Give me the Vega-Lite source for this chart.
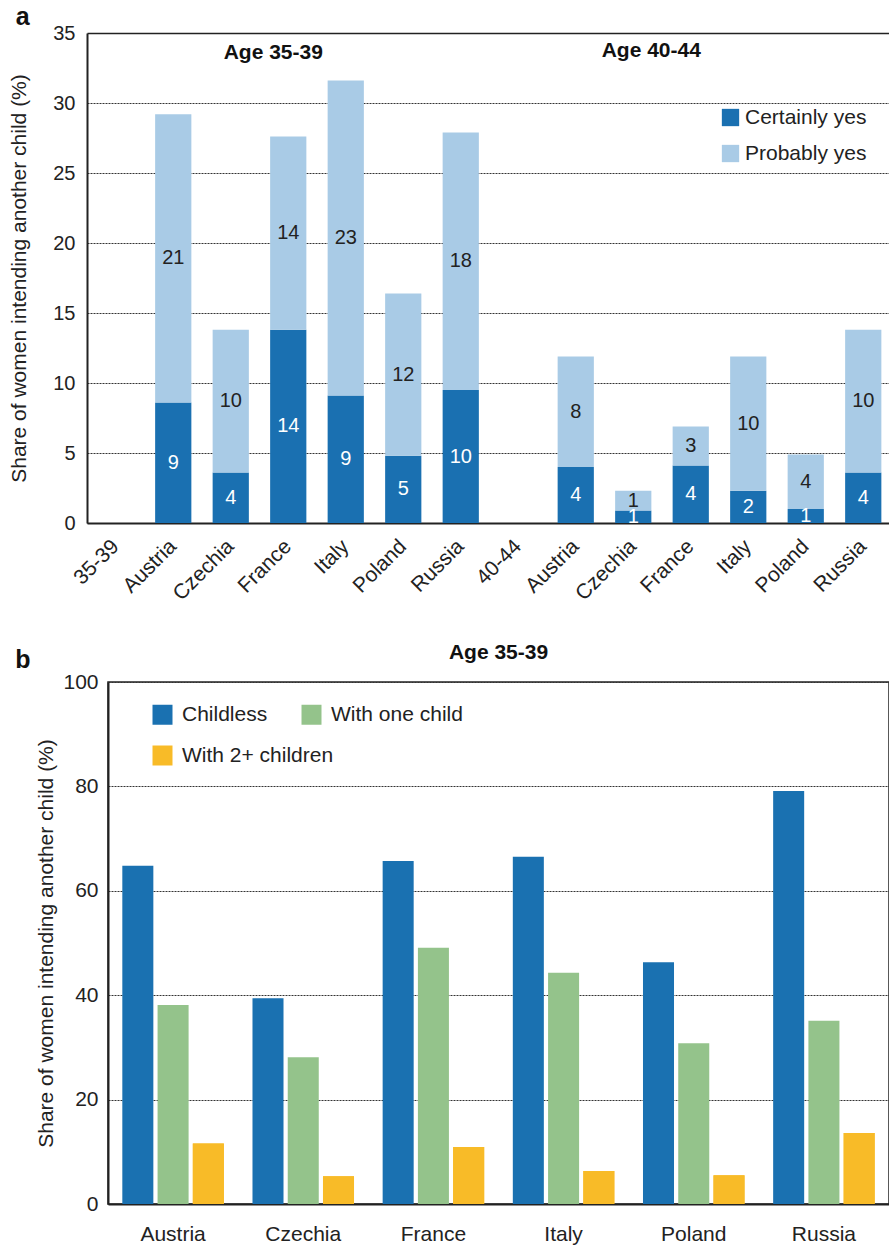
{
  "$schema": "https://vega.github.io/schema/vega-lite/v6.json",
  "padding": {"left": 8, "top": 5, "right": 0, "bottom": 0},
  "spacing": 37,
  "resolve": {"scale": {"color": "independent", "fill": "independent"}, "legend": {"color": "independent", "fill": "independent"}},
  "config": {
    "font": "Liberation Sans",
    "view": {"stroke": "#222", "strokeWidth": 1.5},
    "axis": {
      "labelFont": "Liberation Sans", "titleFont": "Liberation Sans",
      "labelColor": "#222", "titleColor": "#222", "titleFontWeight": "normal",
      "domainColor": "#222", "domainWidth": 2, "ticks": false,
      "gridColor": "#333", "gridDash": [2, 1], "gridWidth": 1
    },
    "legend": {"labelFont": "Liberation Sans", "labelColor": "#222"},
    "title": {"font": "Liberation Sans", "color": "#111"},
    "text": {"font": "Liberation Sans"}
  },
  "vconcat": [
    {
      "title": {"text": "a", "anchor": "start", "frame": "bounds", "fontSize": 25, "fontWeight": "bold", "offset": -7, "dx": 7},
      "width": 782,
      "height": 490,
      "view": {"stroke": null},
      "data": {"values": [
        {"age": "35-39", "key": "1Austria", "type": "Certainly yes", "pct": 8.6},
        {"age": "35-39", "key": "1Austria", "type": "Probably yes", "pct": 20.6},
        {"age": "35-39", "key": "1Czechia", "type": "Certainly yes", "pct": 3.6},
        {"age": "35-39", "key": "1Czechia", "type": "Probably yes", "pct": 10.2},
        {"age": "35-39", "key": "1France", "type": "Certainly yes", "pct": 13.8},
        {"age": "35-39", "key": "1France", "type": "Probably yes", "pct": 13.8},
        {"age": "35-39", "key": "1Italy", "type": "Certainly yes", "pct": 9.1},
        {"age": "35-39", "key": "1Italy", "type": "Probably yes", "pct": 22.5},
        {"age": "35-39", "key": "1Poland", "type": "Certainly yes", "pct": 4.8},
        {"age": "35-39", "key": "1Poland", "type": "Probably yes", "pct": 11.6},
        {"age": "35-39", "key": "1Russia", "type": "Certainly yes", "pct": 9.5},
        {"age": "35-39", "key": "1Russia", "type": "Probably yes", "pct": 18.4},
        {"age": "40-44", "key": "2Austria", "type": "Certainly yes", "pct": 4.0},
        {"age": "40-44", "key": "2Austria", "type": "Probably yes", "pct": 7.9},
        {"age": "40-44", "key": "2Czechia", "type": "Certainly yes", "pct": 0.9},
        {"age": "40-44", "key": "2Czechia", "type": "Probably yes", "pct": 1.4},
        {"age": "40-44", "key": "2France", "type": "Certainly yes", "pct": 4.1},
        {"age": "40-44", "key": "2France", "type": "Probably yes", "pct": 2.8},
        {"age": "40-44", "key": "2Italy", "type": "Certainly yes", "pct": 2.3},
        {"age": "40-44", "key": "2Italy", "type": "Probably yes", "pct": 9.6},
        {"age": "40-44", "key": "2Poland", "type": "Certainly yes", "pct": 1.0},
        {"age": "40-44", "key": "2Poland", "type": "Probably yes", "pct": 3.9},
        {"age": "40-44", "key": "2Russia", "type": "Certainly yes", "pct": 3.6},
        {"age": "40-44", "key": "2Russia", "type": "Probably yes", "pct": 10.2}
      ]},
      "layer": [
        {
          "mark": {"type": "bar"},
          "encoding": {
            "x": {
              "field": "key", "type": "nominal", "title": null,
              "scale": {
                "domain": ["35-39", "1Austria", "1Czechia", "1France", "1Italy", "1Poland", "1Russia", "40-44", "2Austria", "2Czechia", "2France", "2Italy", "2Poland", "2Russia"],
                "range": [-21, 784],
                "paddingInner": 0.37, "paddingOuter": 0.185
              },
              "axis": {
                "labelExpr": "indexof(datum.label, '-') > 0 ? datum.label : slice(datum.label, 1)",
                "labelAngle": -45, "labelAlign": "right", "labelBaseline": "middle",
                "labelFontSize": 21, "labelPadding": 20
              }
            },
            "y": {
              "field": "pct", "type": "quantitative", "stack": "zero",
              "title": "Share of women intending another child (%)",
              "scale": {"domain": [0, 35]},
              "axis": {
                "values": [0, 5, 10, 15, 20, 25, 30, 35], "grid": true, "offset": 21,
                "gridDash": {"condition": {"test": "datum.value === 35", "value": [1, 0]}, "value": [2, 1]},
                "gridColor": {"condition": {"test": "datum.value === 35", "value": "#222"}, "value": "#333"},
                "gridWidth": {"condition": {"test": "datum.value === 35", "value": 1.5}, "value": 1},
                "labelFontSize": 20, "labelPadding": 12, "titleFontSize": 21, "titlePadding": 23
              }
            },
            "color": {
              "field": "type", "type": "nominal",
              "scale": {"domain": ["Certainly yes", "Probably yes"], "range": ["#1a70b1", "#a9cbe6"]},
              "legend": {
                "orient": "none", "legendX": 612, "legendY": 74, "title": null,
                "symbolType": "square", "symbolSize": 300, "symbolStrokeWidth": 0,
                "labelFontSize": 21, "labelOffset": 4, "rowPadding": 14
              }
            },
            "order": {"field": "type"}
          }
        },
        {
          "transform": [
            {"stack": "pct", "groupby": ["key"], "sort": [{"field": "type", "order": "ascending"}], "as": ["y0", "y1"]},
            {"fold": ["y0", "y1"], "as": ["edge", "yv"]}
          ],
          "mark": {"type": "text", "fontSize": 20, "baseline": "middle"},
          "encoding": {
            "x": {"field": "key", "type": "nominal", "title": null},
            "y": {"aggregate": "mean", "field": "yv", "type": "quantitative", "title": "Share of women intending another child (%)"},
            "detail": {"field": "type"},
            "text": {"aggregate": "mean", "field": "pct", "type": "quantitative", "format": ".0f"},
            "color": {"condition": {"test": "datum.type === 'Certainly yes'", "value": "white"}, "value": "#222"}
          }
        },
        {
          "data": {"values": [{"label": "Age 35-39", "key": "1France", "v": 33.6}]},
          "mark": {"type": "text", "fontSize": 21, "fontWeight": "bold", "dx": -15, "color": "#111"},
          "encoding": {
            "x": {"field": "key", "type": "nominal", "title": null},
            "y": {"field": "v", "type": "quantitative", "title": "Share of women intending another child (%)"},
            "text": {"field": "label"}
          }
        },
        {
          "data": {"values": [{"label": "Age 40-44", "key": "2Czechia", "v": 33.7}]},
          "mark": {"type": "text", "fontSize": 21, "fontWeight": "bold", "dx": 18, "color": "#111"},
          "encoding": {
            "x": {"field": "key", "type": "nominal", "title": null},
            "y": {"field": "v", "type": "quantitative", "title": "Share of women intending another child (%)"},
            "text": {"field": "label"}
          }
        }
      ]
    },
    {
      "title": {"text": "b", "anchor": "start", "frame": "bounds", "fontSize": 25, "fontWeight": "bold", "offset": -32, "dx": -20},
      "vconcat": [
        {
          "title": {"text": "Age 35-39", "anchor": "middle", "fontSize": 21, "fontWeight": "bold", "offset": 8},
          "width": 781,
          "height": 522,
          "data": {"values": [
            {"country": "Austria", "group": "Childless", "pct": 64.8},
            {"country": "Austria", "group": "With one child", "pct": 38.1},
            {"country": "Austria", "group": "With 2+ children", "pct": 11.6},
            {"country": "Czechia", "group": "Childless", "pct": 39.4},
            {"country": "Czechia", "group": "With one child", "pct": 28.1},
            {"country": "Czechia", "group": "With 2+ children", "pct": 5.3},
            {"country": "France", "group": "Childless", "pct": 65.7},
            {"country": "France", "group": "With one child", "pct": 49.1},
            {"country": "France", "group": "With 2+ children", "pct": 10.9},
            {"country": "Italy", "group": "Childless", "pct": 66.5},
            {"country": "Italy", "group": "With one child", "pct": 44.3},
            {"country": "Italy", "group": "With 2+ children", "pct": 6.3},
            {"country": "Poland", "group": "Childless", "pct": 46.3},
            {"country": "Poland", "group": "With one child", "pct": 30.8},
            {"country": "Poland", "group": "With 2+ children", "pct": 5.5},
            {"country": "Russia", "group": "Childless", "pct": 79.1},
            {"country": "Russia", "group": "With one child", "pct": 35.1},
            {"country": "Russia", "group": "With 2+ children", "pct": 13.6}
          ]},
          "encoding": {
            "x": {
              "field": "country", "type": "nominal", "title": null,
              "scale": {"paddingInner": 0.22, "paddingOuter": 0.11},
              "axis": {"labelAngle": 0, "labelFontSize": 21, "labelPadding": 19}
            },
            "xOffset": {
              "field": "group", "type": "nominal",
              "scale": {"domain": ["Childless", "With one child", "With 2+ children"], "paddingInner": 0.12, "paddingOuter": 0}
            },
            "y": {
              "field": "pct", "type": "quantitative",
              "title": "Share of women intending another child (%)",
              "scale": {"domain": [0, 100]},
              "axis": {"values": [0, 20, 40, 60, 80, 100], "grid": true, "labelFontSize": 21, "labelPadding": 10, "titleFontSize": 21, "titlePadding": 6}
            }
          },
          "layer": [
            {
              "mark": {"type": "bar"},
              "encoding": {
                "color": {
                  "field": "group", "type": "nominal",
                  "scale": {"domain": ["Childless", "With one child", "With 2+ children"], "range": ["#1a71b1", "#94c38b", "#f8bb28"]},
                  "legend": {
                    "orient": "none", "legendX": 44, "legendY": 22, "title": null, "direction": "horizontal",
                    "values": ["Childless", "With one child"],
                    "symbolType": "square", "symbolSize": 400, "symbolStrokeWidth": 0,
                    "labelFontSize": 21, "labelOffset": 9, "columnPadding": 33
                  }
                }
              }
            },
            {
              "transform": [{"filter": "datum.group === 'With 2+ children'"}],
              "mark": {"type": "bar"},
              "encoding": {
                "fill": {
                  "field": "group", "type": "nominal",
                  "scale": {"domain": ["With 2+ children"], "range": ["#f8bb28"]},
                  "legend": {
                    "orient": "none", "legendX": 44, "legendY": 63, "title": null, "direction": "horizontal",
                    "symbolType": "square", "symbolSize": 400, "symbolStrokeWidth": 0,
                    "labelFontSize": 21, "labelOffset": 9
                  }
                }
              }
            }
          ]
        }
      ]
    }
  ]
}
